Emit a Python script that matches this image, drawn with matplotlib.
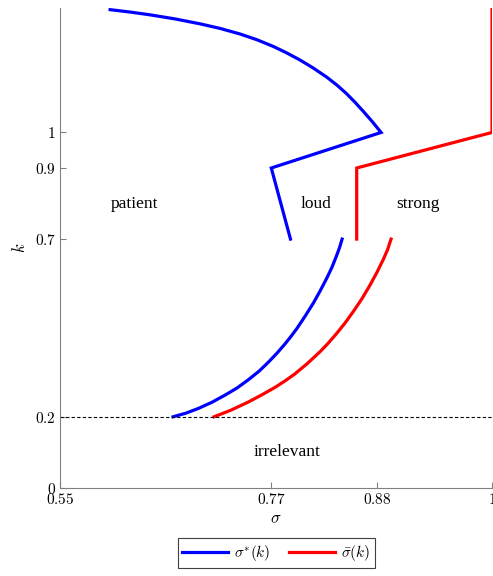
import matplotlib
matplotlib.use("Agg")
import matplotlib.pyplot as plt

plt.rcParams['mathtext.fontset'] = 'cm'
plt.rcParams['font.family'] = ['DejaVu Serif']

# sigma*(k) upper branch (k >= 0.7)
blue_up_sigma = [0.6021, 0.6229, 0.6438, 0.6698, 0.6958, 0.7167, 0.7375, 0.7552, 0.7722, 0.7865,
                 0.8000, 0.8135, 0.8278, 0.8385, 0.8486, 0.8573, 0.8659, 0.8750, 0.8844, 0.770, 0.790]
blue_up_k     = [1.3455, 1.3388, 1.3309, 1.3194, 1.3056, 1.2927, 1.2770, 1.2607, 1.2419, 1.2233,
                 1.2037, 1.1817, 1.1556, 1.1331, 1.1087, 1.0848, 1.0593, 1.0312, 1.000, 0.900, 0.700]
# sigma*(k) lower branch (0.2 <= k <= 0.7)
blue_lo_sigma = [0.6677, 0.6813, 0.6941, 0.7083, 0.7219, 0.7344, 0.7461, 0.7573, 0.7670, 0.7760,
                 0.7844, 0.7906, 0.7966, 0.8052, 0.8139, 0.8208, 0.8278, 0.8333, 0.8382, 0.8411, 0.8438]
blue_lo_k     = [0.200, 0.2104, 0.2236, 0.2410, 0.2611, 0.2812, 0.3042, 0.3284, 0.3537, 0.3792,
                 0.4053, 0.4264, 0.4480, 0.4829, 0.5202, 0.5537, 0.5899, 0.6211, 0.6545, 0.6758, 0.700]
# sigma_bar(k) upper branch
red_up_sigma = [1.000, 1.000, 0.859, 0.859]
red_up_k     = [1.348, 1.000, 0.900, 0.700]
# sigma_bar(k) lower branch
red_lo_sigma = [0.7104, 0.7281, 0.7461, 0.7604, 0.7740, 0.7844, 0.7945, 0.8073, 0.8208, 0.8292,
                0.8382, 0.8469, 0.8555, 0.8646, 0.8729, 0.8802, 0.8868, 0.8911, 0.8948]
red_lo_k     = [0.200, 0.2188, 0.2416, 0.2621, 0.2829, 0.3011, 0.3205, 0.3492, 0.3831, 0.4067,
                0.4348, 0.4640, 0.4963, 0.5328, 0.5705, 0.6070, 0.6433, 0.6697, 0.700]

x_ticks = [0.55, 0.77, 0.88, 1.0]
x_tick_labels = ['$0.55$', '$0.77$', '$0.88$', '$1$']
y_ticks = [0, 0.2, 0.7, 0.9, 1.0]
y_tick_labels = ['$0$', '$0.2$', '$0.7$', '$0.9$', '$1$']

region_labels = ['patient', 'loud', 'strong', 'irrelevant']
region_x = [0.628, 0.817, 0.923, 0.786]
region_y = [0.798, 0.798, 0.798, 0.101]
threshold_k = 0.2

fig = plt.figure(figsize=(4.93, 5.76), dpi=100)
ax = fig.add_axes([0.122, 0.153, 0.876, 0.833])

lw = 2.3
ax.plot(blue_up_sigma, blue_up_k, color='#0000ff', lw=lw, label=r'$\sigma^{*}(k)$', solid_joinstyle='miter')
ax.plot(blue_lo_sigma, blue_lo_k, color='#0000ff', lw=lw)
ax.plot(red_up_sigma, red_up_k, color='#ff0000', lw=lw, label=r'$\bar{\sigma}(k)$', solid_joinstyle='miter')
ax.plot(red_lo_sigma, red_lo_k, color='#ff0000', lw=lw)
ax.axhline(threshold_k, color='black', lw=0.8, ls=(0, (3, 2)))

for t, x, y in zip(region_labels, region_x, region_y):
    ax.text(x, y, t, ha='center', va='center', fontsize=12.5,
            family=['Liberation Serif', 'DejaVu Serif'])

ax.set_xlim(0.55, 1.0)
ax.set_ylim(0, 1.35)
ax.set_xticks(x_ticks)
ax.set_xticklabels(x_tick_labels, fontsize=11)
ax.set_yticks(y_ticks)
ax.set_yticklabels(y_tick_labels, fontsize=11)
ax.tick_params(direction='in', color='#808080', length=4, pad=3)
for s in ['top', 'right']:
    ax.spines[s].set_visible(False)
for s in ['left', 'bottom']:
    ax.spines[s].set_color('#808080')
ax.set_xlabel(r'$\sigma$', fontsize=12, labelpad=2)
ax.set_ylabel(r'$k$', fontsize=12, labelpad=4)

leg = fig.legend(loc='center', bbox_to_anchor=(0.56, 0.04), ncol=2, fontsize=11,
                 fancybox=False, edgecolor='#404040', framealpha=1,
                 handlelength=3.0, columnspacing=1.2, borderpad=0.3, handletextpad=0.4)
leg.get_frame().set_linewidth(0.8)

fig.savefig('out.png', dpi=100)
